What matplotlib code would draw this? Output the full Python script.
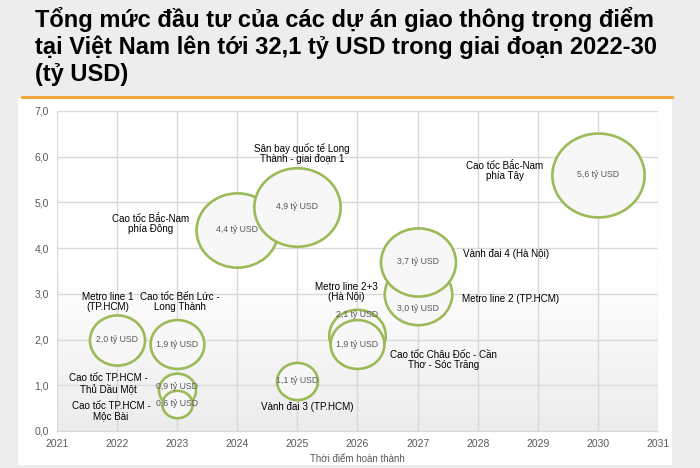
import numpy as np
import matplotlib.pyplot as plt
from matplotlib.path import Path
from matplotlib.transforms import Affine2D
from matplotlib.patches import Rectangle
from matplotlib.lines import Line2D

plt.rcParams['font.family'] = ['Liberation Sans', 'DejaVu Sans']

# Data: completion year, investment (bn USD)
projects = ["Metro line 1\n(TP.HCM)", "Cao tốc Bến Lức -\nLong Thành",
            "Cao tốc TP.HCM -\nThủ Dầu Một", "Cao tốc TP.HCM -\nMộc Bài",
            "Cao tốc Bắc-Nam\nphía Đông", "Sân bay quốc tế Long\nThành - giai đoạn 1",
            "Vành đai 3 (TP.HCM)", "Metro line 2+3\n(Hà Nội)",
            "Cao tốc Châu Đốc - Cần\nThơ - Sóc Trăng", "Metro line 2 (TP.HCM)",
            "Vành đai 4 (Hà Nội)", "Cao tốc Bắc-Nam\nphía Tây"]
years = [2022, 2023, 2023, 2023, 2024, 2025, 2025, 2026, 2026, 2027, 2027, 2030]
y_vals = [2.0, 1.9, 0.9, 0.6, 4.4, 4.9, 1.1, 2.1, 1.9, 3.0, 3.7, 5.6]
invest = [2.0, 1.9, 0.9, 0.6, 4.4, 4.9, 1.1, 2.1, 1.9, 3.0, 3.7, 5.6]
bubble_labels = ["2,0 tỷ USD", "1,9 tỷ USD", "0,9 tỷ USD", "0,6 tỷ USD", "4,4 tỷ USD",
                 "4,9 tỷ USD", "1,1 tỷ USD", "2,1 tỷ USD", "1,9 tỷ USD", "3,0 tỷ USD",
                 "3,7 tỷ USD", "5,6 tỷ USD"]

# label placement (data coords)
name_x = [2021.84, 2023.05, 2021.85, 2021.9, 2022.55, 2025.08, 2025.17, 2025.82,
          2027.43, 2028.55, 2028.47, 2028.45]
name_y = [2.82, 2.82, 1.03, 0.44, 4.53, 6.06, 0.53, 3.04, 1.55, 2.89, 3.87, 5.69]
value_label_y = [2.0, 1.9, 0.98, 0.6, 4.4, 4.9, 1.1, 2.54, 1.9, 2.67, 3.7, 5.6]

green = "#9bbb59"
fig = plt.figure(figsize=(7, 4.68), dpi=100)
fig.patch.set_facecolor("#ededed")

# white chart panel and orange rule
fig.add_artist(Rectangle((18 / 700, 1 - 465 / 468), 654 / 700, 367 / 468,
                         transform=fig.transFigure, facecolor="white",
                         edgecolor="none", zorder=0))
fig.add_artist(Line2D([22 / 700, 672 / 700], [1 - 97 / 468, 1 - 97 / 468],
                      transform=fig.transFigure, color="#f5a030", lw=2))

fig.text(35 / 700, 1 - 7 / 468,
         "Tổng mức đầu tư của các dự án giao thông trọng điểm\n"
         "tại Việt Nam lên tới 32,1 tỷ USD trong giai đoạn 2022-30\n(tỷ USD)",
         ha="left", va="top", fontsize=17, fontweight="bold",
         color="black", linespacing=1.2)

ax = fig.add_axes([57 / 700, 1 - 431 / 468, 601 / 700, 320 / 468])
ax.set_facecolor("none")
grad = np.linspace(1, 0, 256).reshape(-1, 1)
ax.imshow(grad, extent=[0, 1, 0, 1], transform=ax.transAxes, aspect="auto",
          cmap=plt.matplotlib.colors.LinearSegmentedColormap.from_list(
              "bg", ["#ececec", "#ffffff", "#ffffff"]), zorder=0)

ax.set_xlim(2021, 2031)
ax.set_ylim(0, 7)
ax.set_xticks(range(2021, 2032))
ax.set_yticks(np.arange(0, 7.1, 1))
ax.set_yticklabels([f"{v:.1f}".replace(".", ",") for v in np.arange(0, 7.1, 1)])
ax.grid(True, color="#d9d9d9", lw=1, zorder=1)
for s in ax.spines.values():
    s.set_visible(False)
ax.spines["bottom"].set_visible(True)
ax.spines["bottom"].set_color("#d9d9d9")
ax.tick_params(length=0, colors="#595959", labelsize=7.5, pad=6)
ax.set_xlabel("Thời điểm hoàn thành", fontsize=7, color="#595959", labelpad=3)

# slightly wide ellipse marker
ell = Affine2D().scale(1.1, 1.0).transform_path(Path.unit_circle())
for i in range(len(years)):
    ax.scatter(years[i], y_vals[i], s=788 * invest[i], marker=ell,
               facecolor="#f7f7f7", edgecolor=green, linewidth=1.9,
               zorder=3 + i, clip_on=False)
    ax.text(years[i], value_label_y[i], bubble_labels[i], ha="center", va="center",
            fontsize=6.3, color="#595959", zorder=20)
    ax.text(name_x[i], name_y[i], projects[i], ha="center", va="center",
            fontsize=7.1, color="black", zorder=20, linespacing=1.0)

fig.savefig("out.png", dpi=100)
